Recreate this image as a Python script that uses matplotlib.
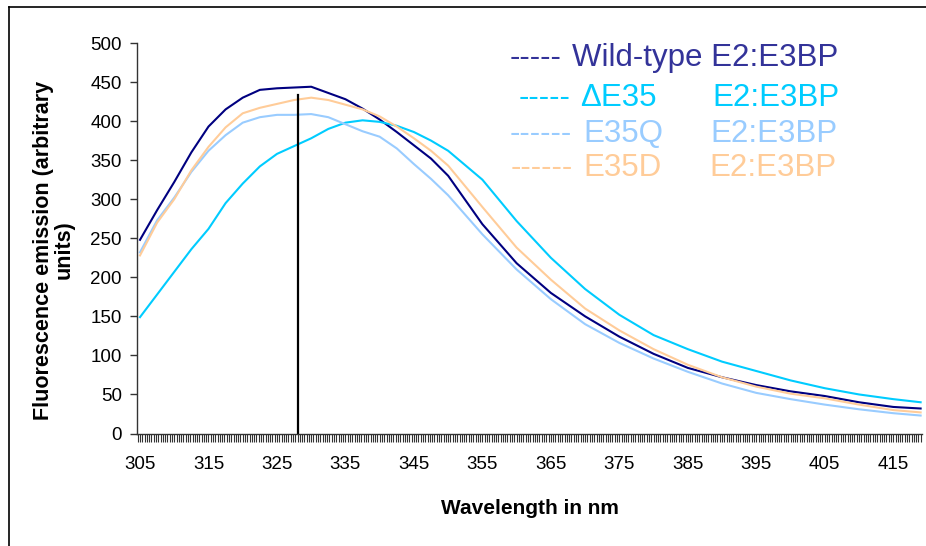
import numpy as np
import matplotlib
matplotlib.use("Agg")
import matplotlib.pyplot as plt
from matplotlib.ticker import MultipleLocator, FixedLocator

plt.rcParams['font.family'] = ['Liberation Sans', 'DejaVu Sans']

# Emission spectra (wavelength in nm, fluorescence in arbitrary units)
wavelength = [305, 307.5, 310, 312.5, 315, 317.5, 320, 322.5, 325, 327.5, 330,
              332.5, 335, 337.5, 340, 342.5, 345, 347.5, 350, 355, 360, 365,
              370, 375, 380, 385, 390, 395, 400, 405, 410, 415, 419]

wild_type = [248, 286, 322, 360, 393, 415, 430, 440, 442, 443, 444,
             436, 428, 416, 402, 386, 369, 352, 330, 268, 218, 180,
             150, 124, 102, 84, 72, 62, 54, 48, 40, 34, 32]

delta_e35 = [149, 178, 207, 236, 262, 295, 320, 342, 358, 368, 378,
             390, 398, 401, 399, 394, 386, 375, 362, 325, 272, 225,
             185, 152, 126, 108, 92, 80, 68, 58, 50, 44, 40]

e35q = [232, 273, 302, 335, 362, 382, 398, 405, 408, 408, 409,
        405, 396, 387, 380, 365, 345, 326, 305, 255, 210, 172,
        140, 116, 96, 79, 64, 52, 44, 37, 31, 26, 23]

e35d = [228, 270, 300, 337, 367, 392, 410, 417, 422, 427, 430,
        427, 421, 415, 406, 393, 378, 362, 343, 290, 238, 197,
        160, 132, 108, 88, 72, 60, 51, 45, 37, 30, 27]

peak_marker = 328
peak_marker_top = 433

series = [
    ("Wild-type", wild_type, "#000080"),
    ("\u0394E35", delta_e35, "#00CCFF"),
    ("E35Q", e35q, "#99CCFF"),
    ("E35D", e35d, "#FFCC99"),
]

W, H = 926, 546
fig = plt.figure(figsize=(W / 100, H / 100), dpi=100)
ax = fig.add_axes([137 / W, 1 - 433.5 / H, (922 - 137) / W, (433.5 - 43) / H])

for name, vals, lc in series:
    ax.plot(wavelength, vals, color=lc, lw=1.5, solid_joinstyle='round')

ax.plot([peak_marker, peak_marker], [0, peak_marker_top], color='black', lw=1.6)

ax.set_xlim(304.56, 419.2)
ax.set_ylim(0, 500)

ax.yaxis.set_major_locator(MultipleLocator(50))
ax.xaxis.set_major_locator(FixedLocator(np.arange(305, 420, 10)))
ax.xaxis.set_minor_locator(MultipleLocator(1 / 3))

for s in ('top', 'right'):
    ax.spines[s].set_visible(False)
for s in ('left', 'bottom'):
    ax.spines[s].set_color('#333333')
    ax.spines[s].set_linewidth(1.0)

ax.tick_params(axis='y', direction='out', length=5, width=1, color='#333333',
               labelsize=13.5, pad=6)
ax.tick_params(axis='x', which='both', direction='out', length=6, width=0.8,
               color='#333333', labelsize=13.5, pad=10)

fig.text(530 / W, 1 - 508 / H, "Wavelength in nm", fontsize=15,
         fontweight='bold', ha='center', va='center')
fig.text(54 / W, 1 - 250 / H, "Fluorescence emission (arbitrary\nunits)",
         rotation=90, ha='center', va='center', fontsize=15.5,
         fontweight='bold', linespacing=1.0)

# legend written as coloured text rows
rows = [
    (58, 510, "-----", 572, "Wild-type E2:E3BP", None, "#333399"),
    (98, 519, "-----", 580, "\u0394E35", 712, "#00CCFF"),
    (134, 510, "------", 583, "E35Q", 710, "#99CCFF"),
    (168, 511, "------", 583, "E35D", 709, "#FFCC99"),
]
for y, xd, dashes, xt, label, xe, col in rows:
    fig.text(xd / W, 1 - y / H, dashes, color=col, fontsize=22.5, va='center')
    fig.text(xt / W, 1 - y / H, label, color=col, fontsize=22.5, va='center')
    if xe is not None:
        fig.text(xe / W, 1 - y / H, "E2:E3BP", color=col, fontsize=22.5,
                 va='center')

# outer frame of the chart
fig.add_artist(plt.Line2D([9 / W, 9 / W], [0, 1 - 7 / H], color='black',
                          lw=1.2, transform=fig.transFigure))
fig.add_artist(plt.Line2D([9 / W, 1], [1 - 7 / H, 1 - 7 / H], color='black',
                          lw=1.2, transform=fig.transFigure))

fig.savefig("out.png", dpi=100)
